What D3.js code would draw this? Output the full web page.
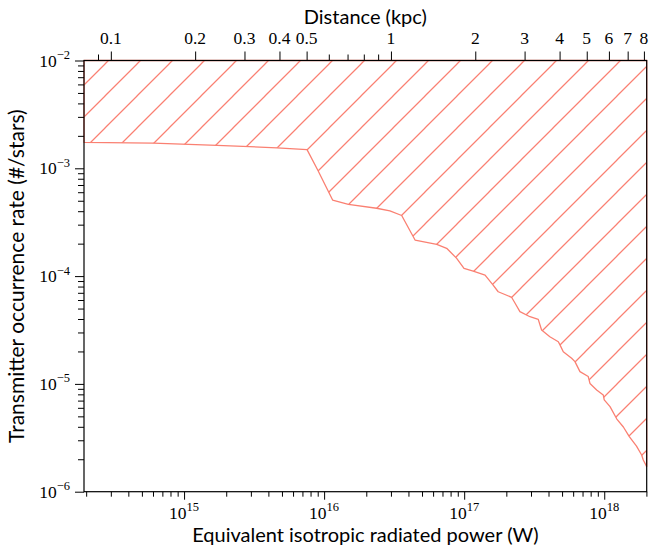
<!DOCTYPE html>
<html>
<head>
<meta charset="utf-8">
<script src="https://cdn.jsdelivr.net/npm/d3@7"></script>
<style>
  body { margin: 0; background: #fff; }
  .tick-lab { font-family: "Liberation Serif", serif; font-size: 17.5px; fill: #000; }
  .ax-title { font-family: Lato, "DejaVu Sans", sans-serif; font-size: 20px; fill: #000; }
</style>
</head>
<body>
<script>
// boundary of the excluded region: EIRP (W) vs transmitter rate (#/stars)
var eirp = [1.93e14, 6.01e14, 1.72e15, 4.61e15, 7.55e15, 9.0e15, 1.15e16, 1.49e16,
            2.37e16, 2.95e16, 3.58e16, 4.46e16, 6.37e16, 7.50e16, 8.84e16, 9.97e16,
            1.16e17, 1.41e17, 1.61e17, 1.75e17, 2.18e17, 2.31e17, 2.50e17, 2.95e17,
            3.38e17, 3.57e17, 4.09e17, 4.70e17, 4.83e17, 5.10e17, 5.85e17, 6.18e17,
            6.71e17, 7.69e17, 7.91e17, 8.83e17, 9.84e17, 1.0e18, 1.10e18, 1.23e18,
            1.37e18, 1.51e18, 1.70e18, 1.85e18, 1.90e18, 2.01e18];
var rate = [1.74e-3, 1.71e-3, 1.63e-3, 1.55e-3, 1.49e-3, 9.64e-4, 5.08e-4, 4.63e-4,
            4.26e-4, 4.02e-4, 3.65e-4, 2.16e-4, 1.97e-4, 1.81e-4, 1.46e-4, 1.18e-4,
            1.11e-4, 1.02e-4, 8.26e-5, 7.16e-5, 6.36e-5, 5.60e-5, 4.68e-5, 4.20e-5,
            3.97e-5, 3.16e-5, 2.74e-5, 2.46e-5, 2.30e-5, 1.99e-5, 1.73e-5, 1.61e-5,
            1.30e-5, 1.17e-5, 1.01e-5, 8.77e-6, 7.89e-6, 7.10e-6, 6.15e-6, 4.72e-6,
            3.98e-6, 3.24e-6, 2.65e-6, 2.19e-6, 1.97e-6, 1.71e-6];

// top axis: distance (kpc), EIRP = wPerKpc2 * d^2
var wPerKpc2 = 3e16;
var distLabeled = [0.1, 0.2, 0.3, 0.4, 0.5, 1, 2, 3, 4, 5, 6, 7, 8];
var distMinor = [0.09, 0.6, 0.7, 0.8, 0.9];

var eirpRange = [1.93e14, 2.01e18];
var rateRange = [1e-6, 1e-2];

var W = 651, H = 554;
// plot box (note: "top" is reserved on window, so keep it in an object)
var box = {left: 84, right: 646.7, top: 60.5, bottom: 491.7};

var svg = d3.select("body").append("svg").attr("width", W).attr("height", H);

var x = d3.scaleLog().domain(eirpRange).range([box.left, box.right]);
var y = d3.scaleLog().domain(rateRange).range([box.bottom, box.top]);
var xd = d3.scaleLog()
    .domain(eirpRange.map(function(e){ return Math.sqrt(e / wPerKpc2); }))
    .range([box.left, box.right]);

// hatch pattern in page coordinates
var defs = svg.append("defs");
var pat = defs.append("pattern")
    .attr("id", "hatch")
    .attr("patternUnits", "userSpaceOnUse")
    .attr("width", 32).attr("height", 32)
    .attr("patternTransform", "translate(9,0)");
pat.append("path")
    .attr("d", "M-2,34L34,-2M-2,2L2,-2M30,34L34,30")
    .attr("stroke", "salmon").attr("stroke-width", 1.25).attr("fill", "none");

// excluded region: boundary curve, closed along the top of the axes
var pts = eirp.map(function(e, i){ return [e, rate[i]]; });
pts.push([eirpRange[1], rateRange[1]]);
pts.push([eirpRange[0], rateRange[1]]);

var line = d3.line()
    .x(function(d){ return x(d[0]); })
    .y(function(d){ return y(d[1]); });

svg.append("path")
    .attr("d", line(pts) + "Z")
    .attr("fill", "url(#hatch)")
    .attr("stroke", "salmon")
    .attr("stroke-width", 1.3)
    .attr("stroke-linejoin", "round");

// axes
function isDecade(v){ return Math.abs(Math.log10(v) - Math.round(Math.log10(v))) < 1e-9; }

var xTicks = x.ticks();
var xMajor = xTicks.filter(isDecade);
var xMinor = xTicks.filter(function(v){ return !isDecade(v); });
var yTicks = y.ticks();
var yMajor = yTicks.filter(isDecade);
var yMinor = yTicks.filter(function(v){ return !isDecade(v); });

function styleAxis(g){
    g.selectAll("path.domain").remove();
    g.selectAll("line").attr("stroke", "#000").attr("stroke-width", 1);
    g.selectAll("text").remove();
}

svg.append("g").attr("transform", "translate(0," + box.bottom + ")")
    .call(d3.axisBottom(x).tickValues(xMinor).tickSize(5).tickFormat("")).call(styleAxis);
svg.append("g").attr("transform", "translate(0," + box.bottom + ")")
    .call(d3.axisBottom(x).tickValues(xMajor).tickSize(8).tickFormat("")).call(styleAxis);
svg.append("g").attr("transform", "translate(" + box.left + ",0)")
    .call(d3.axisLeft(y).tickValues(yMinor).tickSize(6).tickFormat("")).call(styleAxis);
svg.append("g").attr("transform", "translate(" + box.left + ",0)")
    .call(d3.axisLeft(y).tickValues(yMajor).tickSize(9).tickFormat("")).call(styleAxis);
svg.append("g").attr("transform", "translate(0," + box.top + ")")
    .call(d3.axisTop(xd).tickValues(distMinor).tickSize(6).tickFormat("")).call(styleAxis);
svg.append("g").attr("transform", "translate(0," + box.top + ")")
    .call(d3.axisTop(xd).tickValues(distLabeled).tickSize(9).tickFormat("")).call(styleAxis);

// tick labels
function powLabel(sel, v){
    var p = Math.round(Math.log10(v));
    sel.append("tspan").text("10");
    sel.append("tspan").attr("dy", -7.5).attr("font-size", 12.5)
        .text(p < 0 ? "\u2212" + (-p) : "" + p);
}

xMajor.forEach(function(v){
    var t = svg.append("text").attr("class", "tick-lab")
        .attr("x", x(v)).attr("y", box.bottom + 27).attr("text-anchor", "middle");
    powLabel(t, v);
});
yMajor.forEach(function(v){
    var t = svg.append("text").attr("class", "tick-lab")
        .attr("x", box.left - 14).attr("y", y(v) + 6).attr("text-anchor", "end");
    powLabel(t, v);
});
distLabeled.forEach(function(v){
    svg.append("text").attr("class", "tick-lab")
        .attr("x", xd(v)).attr("y", box.top - 16.5).attr("text-anchor", "middle")
        .text(v);
});

// spines
svg.append("rect")
    .attr("x", box.left).attr("y", box.top)
    .attr("width", box.right - box.left).attr("height", box.bottom - box.top)
    .attr("fill", "none").attr("stroke", "#000").attr("stroke-width", 1.2);

// titles
var cx = (box.left + box.right) / 2;
svg.append("text").attr("class", "ax-title")
    .attr("x", cx).attr("y", 542).attr("text-anchor", "middle")
    .text("Equivalent isotropic radiated power (W)");
svg.append("text").attr("class", "ax-title")
    .attr("x", cx).attr("y", 24).attr("text-anchor", "middle")
    .text("Distance (kpc)");
svg.append("text").attr("class", "ax-title")
    .attr("font-size", 21)
    .style("font-size", "21px")
    .attr("transform", "translate(24," + ((box.top + box.bottom) / 2) + ") rotate(-90)")
    .attr("text-anchor", "middle")
    .text("Transmitter occurrence rate (#/stars)");
</script>
</body>
</html>
